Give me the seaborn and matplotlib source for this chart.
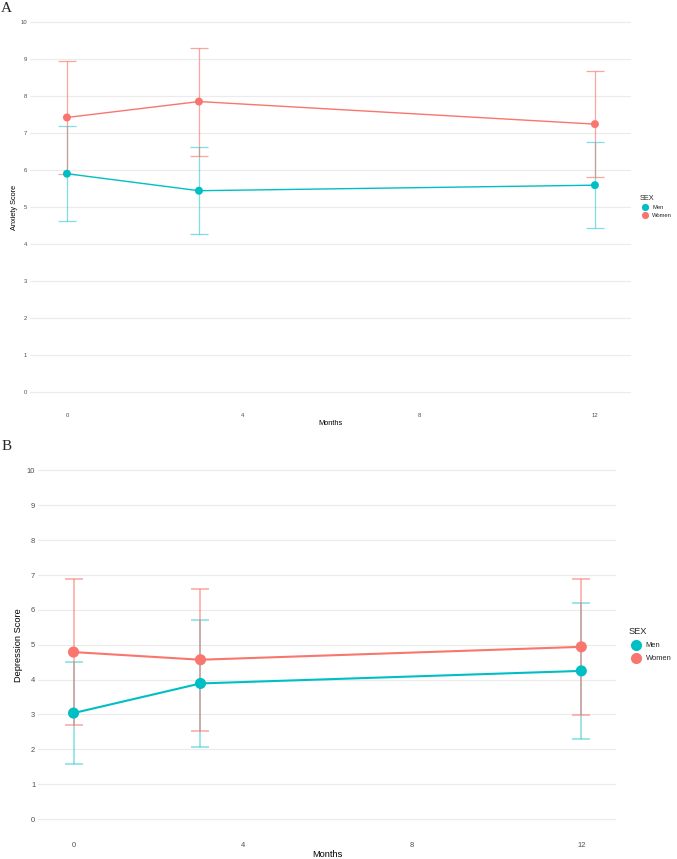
import numpy as np
import pandas as pd
import matplotlib
matplotlib.use('Agg')
import matplotlib.pyplot as plt
import seaborn as sns

# values
months = [0, 3, 12]
sexes = ['Men', 'Women']
anx_men = [5.90, 5.44, 5.59]
anx_men_sd = [1.28, 1.18, 1.17]
anx_women = [7.42, 7.85, 7.24]
anx_women_sd = [1.53, 1.46, 1.43]
dep_men = [3.04, 3.89, 4.25]
dep_men_sd = [1.47, 1.82, 1.95]
dep_women = [4.79, 4.57, 4.94]
dep_women_sd = [2.10, 2.03, 1.95]

palette = {'Men': '#00BFC4', 'Women': '#F8766D'}
bar_alpha = {'Men': 0.5, 'Women': 0.65}


def make_df(men, men_sd, women, women_sd):
    return pd.DataFrame({
        'Months': months * 2,
        'SEX': ['Men'] * 3 + ['Women'] * 3,
        'score': men + women,
        'sd': men_sd + women_sd,
    })


anx = make_df(anx_men, anx_men_sd, anx_women, anx_women_sd)
dep = make_df(dep_men, dep_men_sd, dep_women, dep_women_sd)

sns.set_theme(style='white')
plt.rcParams['font.family'] = ['Liberation Sans', 'DejaVu Sans']

fig = plt.figure(figsize=(6.77, 8.59), dpi=100)
W, H = 677, 859


def panel(rect_px, df, ylabel, tick_fs, title_fs, lw, ms, ebw, ypad, tpad):
    l, t, r, b = rect_px
    ax = fig.add_axes([l / W, 1 - b / H, (r - l) / W, (b - t) / H])
    for sex in sexes:
        d = df[df['SEX'] == sex]
        ax.errorbar(d['Months'], d['score'], yerr=d['sd'], fmt='none',
                    ecolor=palette[sex], alpha=bar_alpha[sex], elinewidth=ebw,
                    capsize=6.3, capthick=ebw, zorder=2)
    sns.lineplot(data=df, x='Months', y='score', hue='SEX', palette=palette,
                 linewidth=lw, legend=False, ax=ax, zorder=3)
    sns.scatterplot(data=df, x='Months', y='score', hue='SEX', palette=palette,
                    s=ms, edgecolor='none', ax=ax, zorder=4)
    ax.set_xlim(-0.84, 12.82)
    ax.set_ylim(-0.5, 10.5)
    ax.set_xticks([0, 4, 8, 12])
    ax.set_yticks(range(0, 11))
    ax.grid(axis='y', color='#EBEBEB', linewidth=0.8)
    ax.grid(axis='x', visible=False)
    for sp in ax.spines.values():
        sp.set_visible(False)
    ax.tick_params(axis='both', length=0, labelsize=tick_fs, colors='#4D4D4D',
                   pad=2)
    ax.tick_params(axis='x', pad=tpad)
    ax.set_xlabel('Months', fontsize=title_fs, color='black', labelpad=1)
    ax.set_ylabel(ylabel, fontsize=title_fs, color='black', labelpad=ypad)
    return ax


axA = panel((30, 3.5, 631, 410.5), anx, 'Anxiety Score',
            4.2, 5.3, 1.0, 33, 0.9, 2, 2)
axB = panel((38, 453, 616, 836.5), dep, 'Depression Score',
            5.4, 6.7, 1.5, 64, 1.1, 3, 4)

sns.move_legend(axA, 'center left', bbox_to_anchor=(1.005, 0.5), title='SEX',
                frameon=False, fontsize=4.2, title_fontsize=5.3,
                markerscale=0.9, handletextpad=0.2, labelspacing=0.5,
                alignment='left')
sns.move_legend(axB, 'center left', bbox_to_anchor=(1.01, 0.5), title='SEX',
                frameon=False, fontsize=5.4, title_fontsize=6.7,
                markerscale=1.0, handletextpad=0.3, labelspacing=0.8,
                alignment='left')

fig.text(1 / W, 1 - 8 / H, 'A', family=['Liberation Serif', 'DejaVu Serif'],
         fontsize=11, va='center', ha='left')
fig.text(2 / W, 1 - 447 / H, 'B', family=['Liberation Serif', 'DejaVu Serif'],
         fontsize=11, va='center', ha='left')

fig.savefig('out.png', dpi=100)
